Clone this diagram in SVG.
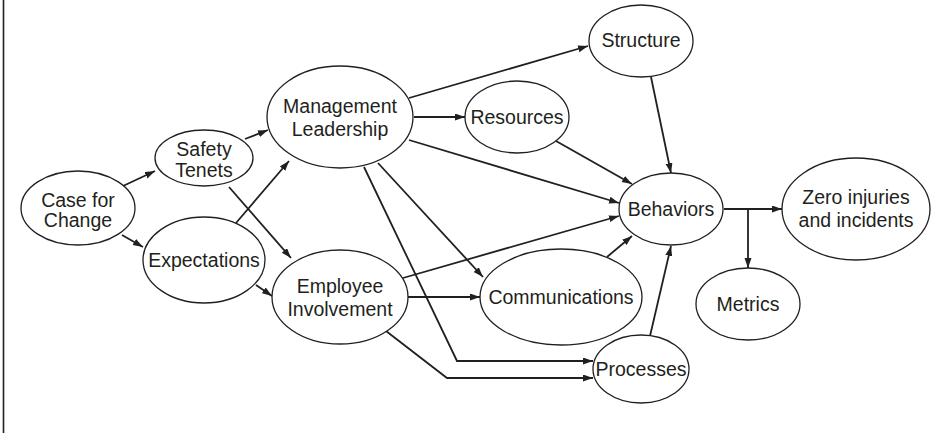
<svg xmlns="http://www.w3.org/2000/svg" width="937" height="433" viewBox="0 0 937 433">
<style>
  .node ellipse { fill: #fff; stroke: #231f20; stroke-width: 1.3; }
  .node text { font-family: "Liberation Sans", Arial, sans-serif; font-size: 19.5px; fill: #231f20; text-anchor: middle; }
  .edge { fill: none; stroke: #231f20; stroke-width: 1.8; marker-end: url(#arr); }
</style>
<defs>
  <marker id="arr" markerUnits="userSpaceOnUse" markerWidth="11" markerHeight="8" refX="10" refY="3.5" orient="auto">
    <path d="M0,0 L10,3.5 L0,7 z" fill="#231f20"/>
  </marker>
</defs>
<rect x="0" y="0" width="937" height="433" fill="#fff"/>
<line x1="3.5" y1="0" x2="3.5" y2="433" stroke="#231f20" stroke-width="1.6"/>

<g id="connectors">
  <path class="edge" d="M123,186 L155,171"/>
  <path class="edge" d="M122,235 L143,247"/>
  <path class="edge" d="M245,139 L268,130"/>
  <path class="edge" d="M229,187 L291,258"/>
  <path class="edge" d="M236,223 L289,161"/>
  <path class="edge" d="M256,285 L272,296"/>
  <path class="edge" d="M409,98 L588,46"/>
  <path class="edge" d="M414,117 L465,117"/>
  <path class="edge" d="M409,140 L619,203"/>
  <path class="edge" d="M556,141 L632,184"/>
  <path class="edge" d="M651,77 L671,173"/>
  <path class="edge" d="M403,278 L619,216"/>
  <path class="edge" d="M408,297 L480,297"/>
  <path class="edge" d="M378,163 L483,277"/>
  <path class="edge" d="M364,167 L457,361 L593,361"/>
  <path class="edge" d="M386,331 L447,378 L593,378"/>
  <path class="edge" d="M607,257 L632,236"/>
  <path class="edge" d="M650,336 L671,246"/>
  <path class="edge" d="M724,209 L782,209"/>
  <path class="edge" d="M748,209 L748,268"/>
</g>

<g id="case-for-change" class="node">
  <ellipse cx="78" cy="208" rx="57" ry="37"/>
  <text x="78" y="207">Case for</text>
  <text x="78" y="227">Change</text>
</g>
<g id="safety-tenets" class="node">
  <ellipse cx="204" cy="158" rx="49" ry="28"/>
  <text x="204" y="156">Safety</text>
  <text x="204" y="177">Tenets</text>
</g>
<g id="expectations" class="node">
  <ellipse cx="204" cy="260" rx="61" ry="43"/>
  <text x="204" y="267">Expectations</text>
</g>
<g id="management-leadership" class="node">
  <ellipse cx="340" cy="117" rx="73" ry="51"/>
  <text x="340" y="113">Management</text>
  <text x="340" y="136">Leadership</text>
</g>
<g id="employee-involvement" class="node">
  <ellipse cx="340" cy="297" rx="68" ry="47"/>
  <text x="340" y="293">Employee</text>
  <text x="340" y="316">Involvement</text>
</g>
<g id="structure" class="node">
  <ellipse cx="641" cy="41" rx="52" ry="36"/>
  <text x="641" y="47">Structure</text>
</g>
<g id="resources" class="node">
  <ellipse cx="517" cy="117" rx="52" ry="36"/>
  <text x="517" y="124">Resources</text>
</g>
<g id="behaviors" class="node">
  <ellipse cx="671" cy="209" rx="52" ry="36"/>
  <text x="671" y="216">Behaviors</text>
</g>
<g id="communications" class="node">
  <ellipse cx="561" cy="297" rx="81" ry="48"/>
  <text x="561" y="304">Communications</text>
</g>
<g id="processes" class="node">
  <ellipse cx="641" cy="369" rx="48" ry="34"/>
  <text x="641" y="376">Processes</text>
</g>
<g id="zero-injuries" class="node">
  <ellipse cx="856" cy="209" rx="74" ry="51"/>
  <text x="856" y="204">Zero injuries</text>
  <text x="856" y="227">and incidents</text>
</g>
<g id="metrics" class="node">
  <ellipse cx="748" cy="304" rx="52" ry="36"/>
  <text x="748" y="311">Metrics</text>
</g>
</svg>
